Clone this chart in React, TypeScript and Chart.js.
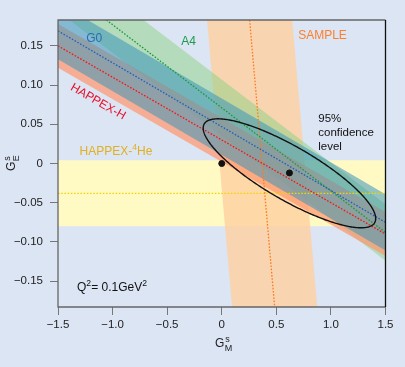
import React, { useEffect, useRef } from 'react';
import { Chart, registerables } from 'chart.js';
Chart.register(...registerables);

const FF = "'Liberation Sans', Arial, sans-serif";
const BG = '#dce5f4';

const xRange = [-1.5, 1.5];
const yRange = [-0.183, 0.183];
const xTicks = [-1.5, -1, -0.5, 0, 0.5, 1, 1.5];
const xTickLabels = ['−1.5', '−1.0', '−0.5', '0', '0.5', '1.0', '1.5'];
const yTicks = [-0.15, -0.1, -0.05, 0, 0.05, 0.1, 0.15];
const yTickLabels = ['−0.15', '−0.10', '−0.05', '0', '0.05', '0.10', '0.15'];

// Oblique bands: G_E + slope * G_M = center ± half
const obliqueNames = ['A4', 'G0', 'HAPPEX-H'];
const obliqueSlopes = [0.106, 0.0814, 0.08];
const obliqueCenters = [0.071, 0.047, 0.03];
const obliqueHalfWidths = [0.036, 0.036, 0.028];
const obliqueFills = ['rgba(140,210,130,0.5)', 'rgba(60,150,185,0.55)', 'rgba(255,150,110,0.7)'];
const obliqueLines = ['#1a9a3a', '#1f5fbf', '#ff1010'];
const obliqueOrder = [18, 16, 17];

// HAPPEX-4He: G_E = center ± half
const he4Center = -0.038;
const he4Half = 0.042;
// SAMPLE: G_M + slope * G_E = center ± half
const sampleSlope = 0.626;
const sampleCenter = 0.37;
const sampleHalf = 0.39;

// measured points
const pointsGM = [0, 0.62];
const pointsGE = [0, -0.012];

// 95% confidence ellipse
const ellipseCenter = [0.62, -0.0125];
const ellipseHalfExtents = [0.79, 0.0695];
const ellipseCorrelation = -0.83;

function obliquePolygon(i: number) {
  const [x0, x1] = xRange;
  const up = (g: number) => obliqueCenters[i] + obliqueHalfWidths[i] - obliqueSlopes[i] * g;
  const lo = (g: number) => obliqueCenters[i] - obliqueHalfWidths[i] - obliqueSlopes[i] * g;
  return [{ x: x0, y: up(x0) }, { x: x1, y: up(x1) }, { x: x1, y: lo(x1) }, { x: x0, y: lo(x0) }];
}
function obliqueCenterLine(i: number) {
  return xRange.map((g) => ({ x: g, y: obliqueCenters[i] - obliqueSlopes[i] * g }));
}
function samplePolygon() {
  const [y0, y1] = yRange;
  const l = (e: number) => sampleCenter - sampleHalf - sampleSlope * e;
  const r = (e: number) => sampleCenter + sampleHalf - sampleSlope * e;
  return [{ x: l(y1), y: y1 }, { x: r(y1), y: y1 }, { x: r(y0), y: y0 }, { x: l(y0), y: y0 }];
}
function sampleCenterLine() {
  return [yRange[1], yRange[0]].map((e) => ({ x: sampleCenter - sampleSlope * e, y: e }));
}

type Part = [string, number];
function drawRich(ctx: CanvasRenderingContext2D, parts: Part[], x: number, y: number, size: number, color: string) {
  ctx.save();
  ctx.fillStyle = color;
  ctx.textBaseline = 'alphabetic';
  ctx.textAlign = 'left';
  let cx = x;
  for (const [t, k] of parts) {
    const s = k ? size * 0.72 : size;
    ctx.font = `${s}px ${FF}`;
    const dy = k === 1 ? -size * 0.42 : k === -1 ? size * 0.3 : 0;
    ctx.fillText(t, cx, y + dy);
    cx += ctx.measureText(t).width;
  }
  ctx.restore();
}
function drawG(ctx: CanvasRenderingContext2D, sub: string, x: number, y: number, rot: number) {
  ctx.save();
  ctx.translate(x, y);
  ctx.rotate(rot);
  ctx.fillStyle = '#222';
  ctx.textAlign = 'left';
  ctx.textBaseline = 'alphabetic';
  ctx.font = `12px ${FF}`;
  ctx.fillText('G', 0, 0);
  const w = ctx.measureText('G').width + 0.5;
  ctx.font = `9px ${FF}`;
  ctx.fillText('s', w + 0.5, -5);
  ctx.fillText(sub, w, 4);
  ctx.restore();
}

const decor = {
  id: 'decor',
  afterDatasetsDraw(chart: any) {
    const { ctx, chartArea: a, scales } = chart;
    const x = scales.x, y = scales.y;
    ctx.save();
    ctx.beginPath();
    ctx.rect(a.left, a.top, a.right - a.left, a.bottom - a.top);
    ctx.clip();
    ctx.beginPath();
    const phi = Math.acos(ellipseCorrelation);
    for (let i = 0; i <= 360; i++) {
      const t = (i * Math.PI) / 180;
      const px = x.getPixelForValue(ellipseCenter[0] + ellipseHalfExtents[0] * Math.cos(t));
      const py = y.getPixelForValue(ellipseCenter[1] + ellipseHalfExtents[1] * Math.cos(t + phi));
      if (i === 0) ctx.moveTo(px, py); else ctx.lineTo(px, py);
    }
    ctx.closePath();
    ctx.lineWidth = 1.4;
    ctx.strokeStyle = '#111';
    ctx.stroke();
    ctx.restore();
  },
  afterDraw(chart: any) {
    const { ctx, chartArea: a, scales } = chart;
    const x = scales.x, y = scales.y;
    const P = (gm: number, ge: number) => [x.getPixelForValue(gm), y.getPixelForValue(ge)];
    ctx.save();
    ctx.lineWidth = 1.3;
    ctx.strokeStyle = '#666';
    ctx.beginPath();
    ctx.moveTo(a.right, a.top); ctx.lineTo(a.left, a.top); ctx.lineTo(a.left, a.bottom); ctx.lineTo(a.right, a.bottom);
    ctx.stroke();
    ctx.strokeStyle = '#111';
    ctx.beginPath();
    ctx.moveTo(a.right, a.top); ctx.lineTo(a.right, a.bottom);
    ctx.stroke();
    ctx.restore();

    let p = P(-1.241, 0.155);
    drawRich(ctx, [['G0', 0]], p[0], p[1], 12, '#2a6db5');
    p = P(-0.371, 0.151);
    drawRich(ctx, [['A4', 0]], p[0], p[1], 12, '#1e9a48');
    p = P(0.70, 0.159);
    drawRich(ctx, [['SAMPLE', 0]], p[0], p[1], 12, '#ff7f27');
    p = P(-1.302, 0.0106);
    drawRich(ctx, [['HAPPEX-', 0], ['4', 1], ['He', 0]], p[0], p[1], 12, '#e0b020');
    p = P(0.884, 0.053);
    drawRich(ctx, [['95%', 0]], p[0], p[1], 11.5, '#111');
    p = P(0.884, 0.0348);
    drawRich(ctx, [['confidence', 0]], p[0], p[1], 11.5, '#111');
    p = P(0.884, 0.017);
    drawRich(ctx, [['level', 0]], p[0], p[1], 11.5, '#111');
    p = P(-1.326, -0.1625);
    drawRich(ctx, [['Q', 0], ['2', 1], ['= 0.1GeV', 0], ['2', 1]], p[0], p[1], 12, '#111');

    const i = 2;
    const q0 = P(-1.5, obliqueCenters[i] + obliqueSlopes[i] * 1.5);
    const q1 = P(1.5, obliqueCenters[i] - obliqueSlopes[i] * 1.5);
    const ang = Math.atan2(q1[1] - q0[1], q1[0] - q0[0]);
    p = P(-1.134, 0.0787);
    ctx.save();
    ctx.translate(p[0], p[1]);
    ctx.rotate(ang);
    ctx.fillStyle = '#e8102a';
    ctx.font = `12px ${FF}`;
    ctx.textAlign = 'center';
    ctx.textBaseline = 'middle';
    ctx.fillText(obliqueNames[i], 0, 0);
    ctx.restore();

    drawG(ctx, 'M', 215, 347, 0);
    drawG(ctx, 'E', 15, 171, -Math.PI / 2);
  },
};

export default function App() {
  const ref = useRef<HTMLCanvasElement>(null);
  useEffect(() => {
    if (!ref.current) return;
    const datasets: any[] = [];
    datasets.push({
      data: [{ x: xRange[0], y: he4Center + he4Half }, { x: xRange[1], y: he4Center + he4Half }, { x: xRange[1], y: he4Center - he4Half }, { x: xRange[0], y: he4Center - he4Half }],
      fill: 'shape', backgroundColor: 'rgb(255,249,196)', borderWidth: 0, pointRadius: 0, order: 20,
    });
    datasets.push({ data: samplePolygon(), fill: 'shape', backgroundColor: 'rgba(255,208,160,0.8)', borderWidth: 0, pointRadius: 0, order: 19 });
    obliqueNames.forEach((_, i) => {
      datasets.push({ data: obliquePolygon(i), fill: 'shape', backgroundColor: obliqueFills[i], borderWidth: 0, pointRadius: 0, order: obliqueOrder[i] });
    });
    const dotted = { fill: false, borderWidth: 1.3, borderDash: [1.6, 1.6], pointRadius: 0 };
    datasets.push({ ...dotted, data: xRange.map((g) => ({ x: g, y: he4Center })), borderColor: '#f2d600', order: 10 });
    datasets.push({ ...dotted, data: sampleCenterLine(), borderColor: '#ff7a1a', order: 9 });
    obliqueNames.forEach((_, i) => {
      datasets.push({ ...dotted, data: obliqueCenterLine(i), borderColor: obliqueLines[i], order: 8 - i });
    });
    datasets.push({
      data: pointsGM.map((g, k) => ({ x: g, y: pointsGE[k] })), showLine: false, pointRadius: 3,
      pointBackgroundColor: '#111', pointBorderColor: '#111', order: 0,
    });

    const chart = new Chart(ref.current, {
      type: 'line',
      data: { datasets },
      plugins: [decor],
      options: {
        animation: false,
        responsive: false,
        layout: { padding: { left: 0, top: 20, right: 19.5, bottom: 0 } },
        plugins: { legend: { display: false }, tooltip: { enabled: false } },
        events: [],
        scales: {
          x: {
            type: 'linear', min: xRange[0], max: xRange[1],
            afterBuildTicks: (s: any) => { s.ticks = xTicks.map((v) => ({ value: v })); },
            afterFit: (s: any) => { s.height = 60; },
            ticks: { callback: (v: any) => xTickLabels[xTicks.indexOf(v)], font: { family: FF, size: 11.5 }, color: '#222', padding: 3, maxRotation: 0 },
            grid: { drawOnChartArea: false, drawTicks: true, tickLength: 8, color: '#777' },
            border: { display: false },
          },
          y: {
            type: 'linear', min: yRange[0], max: yRange[1],
            afterBuildTicks: (s: any) => { s.ticks = yTicks.map((v) => ({ value: v })); },
            afterFit: (s: any) => { s.width = 58; },
            ticks: { callback: (v: any) => yTickLabels[yTicks.indexOf(v)], font: { family: FF, size: 11.5 }, color: '#222', padding: 7 },
            grid: { drawOnChartArea: false, drawTicks: true, tickLength: 8, color: '#777' },
            border: { display: false },
          },
        },
      } as any,
    });
    return () => chart.destroy();
  }, []);
  return (
    <div style={{ position: 'absolute', left: 0, top: 0, width: 405, height: 367, background: BG }}>
      <canvas ref={ref} width={405} height={367} style={{ display: 'block' }} />
    </div>
  );
}
